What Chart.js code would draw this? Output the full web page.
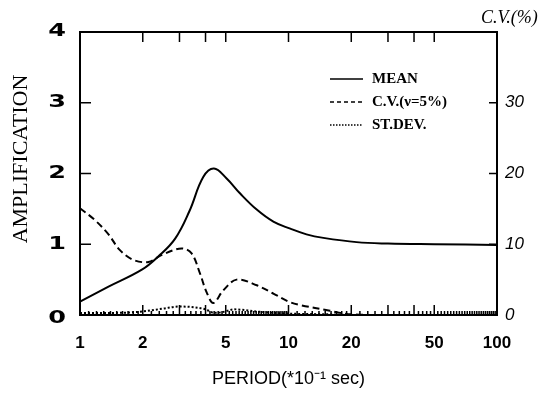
<!DOCTYPE html>
<html>
<head>
<meta charset="utf-8">
<script src="https://cdn.jsdelivr.net/npm/chart.js@4"></script>
<style>
  html, body { margin: 0; padding: 0; background: #fff; }
  #wrap { width: 552px; height: 394px; }
</style>
</head>
<body>
<div id="wrap"><canvas id="chart" width="552" height="394"></canvas></div>
<script>
// period axis is in units of 0.1 sec
const meanPeriod = [1, 1.37, 1.98, 2.38, 2.86, 3.35, 3.9, 4.39, 5.05, 5.85, 7.04, 8.46, 10.2, 12.2, 14.7, 21.2, 30, 50, 100]
const meanValues = [0.19, 0.40, 0.64, 0.83, 1.08, 1.47, 1.95, 2.07, 1.93, 1.72, 1.49, 1.32, 1.22, 1.14, 1.09, 1.03, 1.01, 1.0, 0.99]

const cvPeriod = [1, 1.18, 1.37, 1.55, 1.8, 2.13, 2.47, 3.07, 3.43, 3.76, 4.05, 4.36, 4.87, 5.64, 7.04, 8.5, 10, 11.4, 15.8, 17.7, 20, 25, 100]
const cvValues = [15.1, 13.4, 11.4, 9.2, 7.8, 7.5, 8.5, 9.4, 8.7, 5.9, 3.2, 1.7, 3.5, 5.0, 4.2, 3.0, 1.9, 1.4, 0.6, 0.3, 0.1, 0, 0]

const sdPeriod = [1, 1.5, 2, 2.5, 3, 3.5, 4, 4.4, 4.8, 5.5, 7, 10, 15, 20, 100]
const sdValues = [0.03, 0.03, 0.05, 0.09, 0.12, 0.11, 0.08, 0.03, 0.04, 0.08, 0.05, 0.02, 0.01, 0, 0]

const periodTicks = [1, 2, 5, 10, 20, 50, 100]
const periodMarks = [2, 3, 4, 5, 10, 20, 30, 40, 50]
const ampTicks = [0, 1, 2, 3, 4]
const cvTicks = [0, 10, 20, 30]

const legendItems = [
  { label: "MEAN", dash: [] },
  { label: "C.V.(\u03BD=5%)", dash: [4, 3] },
  { label: "ST.DEV.", dash: [1.5, 1.5] }
]

const toPoints = (xs, ys) => xs.map((x, i) => ({ x: x, y: ys[i] }))

// frame, inward ticks, legend and extra titles
const decorations = {
  id: "decorations",
  afterDraw(chart) {
    const ctx = chart.ctx
    const a = chart.chartArea
    const sx = chart.scales.x, sy = chart.scales.y, sy2 = chart.scales.y2
    ctx.save()
    ctx.strokeStyle = "#000"
    ctx.lineWidth = 2
    ctx.strokeRect(a.left, a.top, a.right - a.left, a.bottom - a.top)

    ctx.lineWidth = 1.5
    ctx.beginPath()
    periodMarks.forEach(v => {
      const px = sx.getPixelForValue(v)
      ctx.moveTo(px, a.bottom); ctx.lineTo(px, a.bottom - 10)
      ctx.moveTo(px, a.top); ctx.lineTo(px, a.top + 10)
    })
    // minor ticks along the bottom
    for (let d = 1; d < 100; d *= 10) {
      for (let k = 1.1; k < 10; k += (k < 2 ? 0.1 : 0.2)) {
        const px = sx.getPixelForValue(d * k)
        ctx.moveTo(px, a.bottom); ctx.lineTo(px, a.bottom - 4)
      }
    }
    ampTicks.slice(1, 4).forEach(v => {
      const py = sy.getPixelForValue(v)
      ctx.moveTo(a.left, py); ctx.lineTo(a.left + 11, py)
    })
    cvTicks.slice(1).forEach(v => {
      const py = sy2.getPixelForValue(v)
      ctx.moveTo(a.right, py); ctx.lineTo(a.right - 8, py)
    })
    ctx.stroke()

    ctx.fillStyle = "#000"

    // left tick labels, wide heavy face
    ctx.font = "bold 17px 'DejaVu Sans'"
    ctx.textAlign = "right"
    ctx.textBaseline = "middle"
    ampTicks.forEach(v => {
      const py = sy.getPixelForValue(v) + (v === 0 ? 4 : 0)
      ctx.save()
      ctx.translate(66, py)
      ctx.scale(1.5, 1)
      ctx.fillText(String(v), 0, 0)
      ctx.restore()
    })

    // legend
    ctx.font = "bold 15px 'Liberation Serif'"
    ctx.textAlign = "left"
    legendItems.forEach((it, i) => {
      const y = 79 + i * 23
      ctx.beginPath()
      ctx.setLineDash(it.dash)
      ctx.lineWidth = 1.5
      ctx.moveTo(330, y); ctx.lineTo(363, y)
      ctx.stroke()
      ctx.setLineDash([])
      ctx.fillText(it.label, 372, y)
    })

    // left axis title
    ctx.save()
    ctx.translate(21, 159)
    ctx.rotate(-Math.PI / 2)
    ctx.textAlign = "center"
    ctx.font = "22px 'Liberation Serif'"
    ctx.fillText("AMPLIFICATION", 0, 0)
    ctx.restore()

    // right axis title
    ctx.font = "italic 18px 'Liberation Serif'"
    ctx.textAlign = "left"
    ctx.fillText("C.V.(%)", 481, 18)
    ctx.restore()
  }
}

new Chart(document.getElementById("chart"), {
  type: "line",
  data: {
    datasets: [
      {
        label: "MEAN",
        data: toPoints(meanPeriod, meanValues),
        yAxisID: "y",
        borderColor: "#000",
        borderWidth: 2,
        pointRadius: 0,
        tension: 0.4
      },
      {
        label: "C.V.(\u03BD=5%)",
        data: toPoints(cvPeriod, cvValues),
        yAxisID: "y2",
        borderColor: "#000",
        borderWidth: 2,
        borderDash: [7, 4],
        pointRadius: 0,
        tension: 0.35
      },
      {
        label: "ST.DEV.",
        data: toPoints(sdPeriod, sdValues),
        yAxisID: "y",
        borderColor: "#000",
        borderWidth: 2,
        borderDash: [2, 2],
        pointRadius: 0,
        cubicInterpolationMode: "monotone"
      }
    ]
  },
  options: {
    responsive: false,
    animation: false,
    layout: { padding: { top: 32, left: 0, right: 0, bottom: 0 } },
    plugins: { legend: { display: false }, tooltip: { enabled: false } },
    scales: {
      x: {
        type: "logarithmic",
        min: 1,
        max: 100,
        afterBuildTicks: s => { s.ticks = periodTicks.map(v => ({ value: v })) },
        afterFit: s => { s.height = 79 },
        grid: { display: false, drawTicks: false },
        border: { display: false },
        ticks: {
          color: "#000",
          font: { family: "'Liberation Sans'", size: 17, weight: "bold" },
          padding: 18,
          maxRotation: 0,
          autoSkip: false,
          callback: v => String(v)
        },
        title: {
          display: true,
          text: "PERIOD(*10\u207B\u00B9 sec)",
          color: "#000",
          font: { family: "'Liberation Sans'", size: 18 },
          padding: { top: 0, bottom: 4 }
        }
      },
      y: {
        position: "left",
        min: 0,
        max: 4,
        afterBuildTicks: s => { s.ticks = ampTicks.map(v => ({ value: v })) },
        afterFit: s => { s.width = 80 },
        grid: { display: false, drawTicks: false },
        border: { display: false },
        ticks: { display: false }
      },
      y2: {
        position: "right",
        min: 0,
        max: 40,
        afterBuildTicks: s => { s.ticks = cvTicks.map(v => ({ value: v })) },
        afterFit: s => { s.width = 55 },
        grid: { display: false, drawTicks: false },
        border: { display: false },
        ticks: {
          color: "#000",
          font: { family: "'Liberation Sans'", size: 17, style: "italic" },
          padding: 8
        }
      }
    }
  },
  plugins: [decorations]
})
</script>
</body>
</html>
